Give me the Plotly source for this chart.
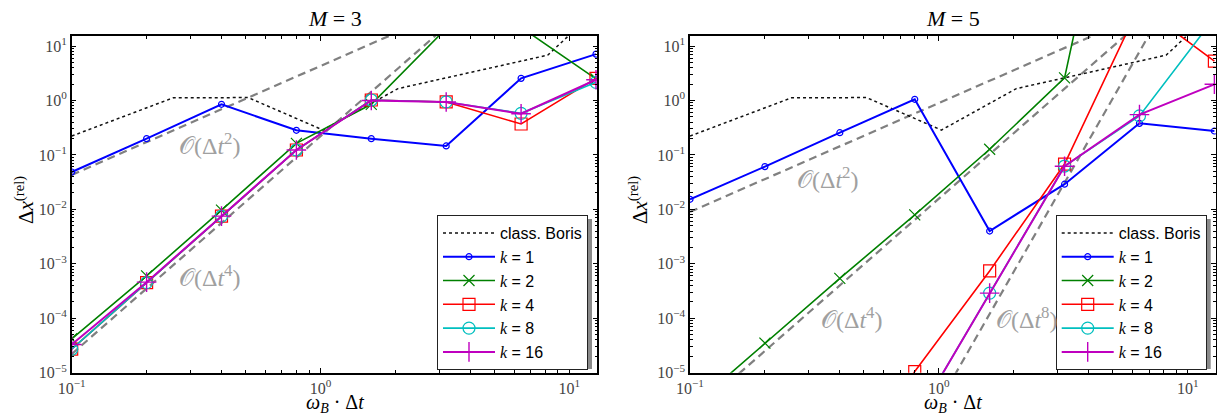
import plotly.graph_objects as go

# ---------------- data ----------------
DT = [0.1, 0.2, 0.4, 0.8, 1.6, 3.2, 6.4, 12.8]

BORIS_X = [0.1, 0.256, 0.512, 1.024, 2.048, 8.192, 16.384]
BORIS_Y = [0.222, 1.12, 1.13, 0.286, 1.65, 6.8, 130]

M3_K1 = [0.0485, 0.199, 0.85, 0.283, 0.199, 0.146, 2.55, 7.1]
M3_K2 = [4.2e-5, 6.0e-4, 9.7e-3, 0.163, 0.85, 21, 22, 2.5]
M3_K4 = [2.7e-5, 4.5e-4, 7.5e-3, 0.123, 1.02, 0.94, 0.37, 2.55]
M3_K8 = [2.7e-5, 4.5e-4, 7.5e-3, 0.123, 1.02, 0.94, 0.58, 2.15]
M3_K16 = [3.3e-5, 4.6e-4, 7.5e-3, 0.123, 1.0, 0.94, 0.57, 2.4]

M5_K1 = [0.0153, 0.061, 0.256, 1.05, 0.0040, 0.029, 0.38, 0.275]
M5_K2 = [2.2e-6, 3.5e-5, 5.4e-4, 7.9e-3, 0.127, 2.6, 6e6, 1e7]
M5_K4 = [1e-11, 1e-9, 1e-7, 1.05e-5, 7.4e-4, 0.068, 55, 5.3]
M5_K8 = [2e-13, 5e-11, 1e-8, 1.3e-6, 2.9e-4, 0.0625, 0.52, 33]
M5_K16 = [2e-13, 5e-11, 1e-8, 1.3e-6, 2.9e-4, 0.062, 0.55, 1.98]

REF_X = [0.1, 12.8]
M3_O2 = [0.043, 704]
M3_O4 = [2.2e-5, 5906]
M5_O2 = [0.009, 147]
M5_O4 = [1.57e-6, 421]
M5_O8 = [2.8e-14, 2016]

X_TICKS = [0.1, 1, 10]
X_TICKTEXT = ["10<sup>−1</sup>", "10<sup>0</sup>", "10<sup>1</sup>"]
Y_TICKS = [1e-5, 1e-4, 1e-3, 1e-2, 1e-1, 1, 10]
Y_TICKTEXT = ["10<sup>−5</sup>", "10<sup>−4</sup>", "10<sup>−3</sup>", "10<sup>−2</sup>",
              "10<sup>−1</sup>", "10<sup>0</sup>", "10<sup>1</sup>"]

K_VALUES = [1, 2, 4, 8, 16]

# ---------------- styles ----------------
OFF = 8  # page body margin
W, H = 1225 - OFF, 416 - OFF
SERIF = "Liberation Serif"
SANS = "Liberation Sans"
STYLES = [
    dict(color="#0000ff", width=2, symbol="circle-open", size=6, mlw=1.2),
    dict(color="#008000", width=1.6, symbol="x-thin-open", size=11, mlw=1.2),
    dict(color="#ff0000", width=1.6, symbol="square-open", size=12, mlw=1.2),
    dict(color="#00bfbf", width=1.6, symbol="circle-open", size=12, mlw=1.2),
    dict(color="#bf00bf", width=2, symbol="cross-thin-open", size=14, mlw=1.4),
]
K_NAMES = ['<span style="font-family:Liberation Serif"><i>k</i></span> = %d' % k for k in K_VALUES]

def px_x(p):
    return (p - OFF) / W

def px_y(p):
    return 1 - (p - OFF) / H

dom_left = [px_x(71.7), px_x(597.3)]
dom_right = [px_x(690), px_x(1215.7)]
dom_y = [px_y(372.7), px_y(36)]

fig = go.Figure()

def add_panel(xa, ya, legend, k_series, refs):
    for ry in refs:
        fig.add_trace(go.Scatter(
            x=REF_X, y=ry, mode="lines", xaxis=xa, yaxis=ya, showlegend=False,
            line=dict(color="#808080", width=2.2, dash="8px,5px"), hoverinfo="skip"))
    fig.add_trace(go.Scatter(
        x=BORIS_X, y=BORIS_Y, mode="lines", name="class. Boris", xaxis=xa, yaxis=ya,
        legend=legend, line=dict(color="#111111", width=1.5, dash="dot")))
    for name, ys, st in zip(K_NAMES, k_series, STYLES):
        fig.add_trace(go.Scatter(
            x=DT, y=ys, mode="lines+markers", name=name, xaxis=xa, yaxis=ya, legend=legend,
            line=dict(color=st["color"], width=st["width"]),
            marker=dict(symbol=st["symbol"], size=st["size"], color=st["color"],
                        line=dict(color=st["color"], width=st["mlw"]))))

add_panel("x", "y", "legend", [M3_K1, M3_K2, M3_K4, M3_K8, M3_K16], [M3_O2, M3_O4])
add_panel("x2", "y2", "legend2", [M5_K1, M5_K2, M5_K4, M5_K8, M5_K16], [M5_O2, M5_O4, M5_O8])

minor_x = [m * 10 ** e for e in (-1, 0, 1) for m in range(2, 10)]
minor_y = [m * 10 ** e for e in range(-5, 2) for m in range(2, 10)]

axis_common = dict(
    type="log", showgrid=False, zeroline=False, showline=True, linecolor="black", linewidth=1.5,
    mirror="ticks", ticks="inside", ticklen=5, tickwidth=1, tickcolor="black", automargin=False,
    tickfont=dict(family=SERIF, size=16, color="#444444"),
)
xcommon = dict(axis_common, range=[-1, 1.1125], tickmode="array", tickvals=X_TICKS,
               ticktext=X_TICKTEXT,
               minor=dict(tickmode="array", tickvals=minor_x, ticks="inside", ticklen=3,
                          tickcolor="black"))
ycommon = dict(axis_common, range=[-5, 1.184], tickmode="array", tickvals=Y_TICKS,
               ticktext=Y_TICKTEXT,
               minor=dict(tickmode="array", tickvals=minor_y, ticks="inside", ticklen=3,
                          tickcolor="black"))

fig.update_layout(
    width=W, height=H, margin=dict(l=0, r=0, t=0, b=0, autoexpand=False),
    paper_bgcolor="white", plot_bgcolor="white",
    xaxis=dict(xcommon, domain=dom_left, anchor="y"),
    yaxis=dict(ycommon, domain=dom_y, anchor="x"),
    xaxis2=dict(xcommon, domain=dom_right, anchor="y2"),
    yaxis2=dict(ycommon, domain=dom_y, anchor="x2"),
)

LEG_TOP = 215
LEG_R = [588, 1206.7]
LEG_W, LEG_H = 148.5, 150

legend_common = dict(
    bgcolor="white", bordercolor="#222222", borderwidth=1,
    font=dict(family=SANS, size=16, color="black"),
    xanchor="right", yanchor="top", tracegroupgap=0, itemwidth=52,
)
fig.update_layout(
    legend=dict(legend_common, x=px_x(LEG_R[0]), y=px_y(LEG_TOP)),
    legend2=dict(legend_common, x=px_x(LEG_R[1]), y=px_y(LEG_TOP)),
)

# legend drop shadow
shapes = []
for r in LEG_R:
    shapes.append(dict(type="rect", xref="paper", yref="paper", layer="above",
                       x0=px_x(r - LEG_W + 4), x1=px_x(r + 4),
                       y0=px_y(LEG_TOP + LEG_H + 4), y1=px_y(LEG_TOP + 4),
                       fillcolor="#8a8a8a", line=dict(width=0)))
fig.update_layout(shapes=shapes)

annotations = []
for cx, txt in [((71.7 + 597.3) / 2, "<i>M</i> = 3"), ((690 + 1215.7) / 2, "<i>M</i> = 5")]:
    annotations.append(dict(x=px_x(cx), y=px_y(18), xref="paper", yref="paper", text=txt,
                            showarrow=False, font=dict(family=SERIF, size=22, color="black"),
                            xanchor="center", yanchor="middle"))
    annotations.append(dict(x=px_x(cx), y=px_y(403), xref="paper", yref="paper",
                            text="<i>ω</i><sub><i>B</i></sub> · Δ<i>t</i>",
                            showarrow=False, font=dict(family=SERIF, size=20, color="black"),
                            xanchor="center", yanchor="middle"))
for lx in [24, 638]:
    annotations.append(dict(x=px_x(lx), y=px_y(200), xref="paper", yref="paper",
                            text="Δ<i>x</i><sup>(rel)</sup>", textangle=-90,
                            showarrow=False, font=dict(family=SERIF, size=21, color="black"),
                            xanchor="center", yanchor="middle"))

GRAY_TXT = dict(family=SERIF, size=24, color="#a0a0a0")
for (cx, cy, txt) in [(210, 144, "𝒪(Δ<i>t</i><sup>2</sup>)"),
                      (210, 276, "𝒪(Δ<i>t</i><sup>4</sup>)"),
                      (828, 178, "𝒪(Δ<i>t</i><sup>2</sup>)"),
                      (852, 318, "𝒪(Δ<i>t</i><sup>4</sup>)"),
                      (1027, 318, "𝒪(Δ<i>t</i><sup>8</sup>)")]:
    annotations.append(dict(x=px_x(cx), y=px_y(cy), xref="paper", yref="paper", text=txt,
                            showarrow=False, font=GRAY_TXT, xanchor="center", yanchor="middle"))
fig.update_layout(annotations=annotations)

fig.write_html("out.html")
